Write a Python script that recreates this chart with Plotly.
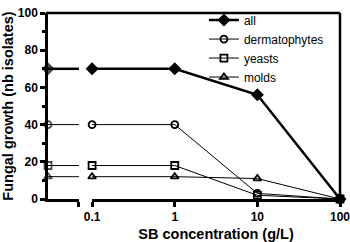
import plotly.graph_objects as go

# ---- data ----
series_names = ["all", "dermatophytes", "yeasts", "molds"]
concentrations = [0.1, 1, 10, 100]          # SB concentration (g/L)
control_values = [70, 40, 18, 12]           # no SB (control)
all_values = [70, 70, 56, 0]
dermatophytes_values = [40, 40, 3, 0]
yeasts_values = [18, 18, 2, 0]
molds_values = [12, 12, 11, 0]
x_tick_labels = ["0.1", "1", "10", "100"]
y_tick_values = [0, 20, 40, 60, 80, 100]

series_values = [all_values, dermatophytes_values, yeasts_values, molds_values]
symbols = ["diamond", "circle-open", "square-open", "triangle-up-open"]
line_widths = [2.5, 1, 1, 1]
marker_sizes = [8, 7, 7, 7]

FONT = "Liberation Sans, Arial, sans-serif"
BLACK = "#000000"

fig = go.Figure()

LEFT_END = 1  # end of control segment (left axis range end)

for name, ctrl, vals, sym, lw, ms in zip(series_names, control_values, series_values,
                                          symbols, line_widths, marker_sizes):
    # control segment (left broken part of the axis)
    fig.add_trace(go.Scatter(
        x=[0, LEFT_END], y=[ctrl, ctrl], xaxis="x", yaxis="y",
        mode="lines+markers", showlegend=False, cliponaxis=False,
        line=dict(color=BLACK, width=lw),
        marker=dict(symbol=sym, size=[ms, 0], color=BLACK,
                    line=dict(color=BLACK, width=1.8)),
        hoverinfo="skip",
    ))
    # concentration series (log part)
    fig.add_trace(go.Scatter(
        x=concentrations, y=vals, xaxis="x2", yaxis="y", name=name,
        mode="lines+markers", cliponaxis=False,
        line=dict(color=BLACK, width=lw),
        marker=dict(symbol=sym, size=ms, color=BLACK,
                    line=dict(color=BLACK, width=1.8)),
    ))

axis_common = dict(showgrid=False, zeroline=False, showline=True,
                   linecolor=BLACK, linewidth=2.5, ticks="outside",
                   tickcolor=BLACK, tickwidth=2.5, ticklabeloverflow="allow",
                   automargin=False)

fig.update_layout(
    width=350, height=242,
    margin=dict(l=48, r=10, t=6, b=43),
    paper_bgcolor="white", plot_bgcolor="white",
    font=dict(family=FONT, color=BLACK),
    xaxis=dict(domain=[0, 0.106], range=[0, LEFT_END], anchor="y",
               tickvals=[LEFT_END], ticklen=5, showticklabels=False,
               **axis_common),
    xaxis2=dict(domain=[0.151, 1], type="log", range=[-1, 2], anchor="y",
                tickvals=concentrations, ticktext=x_tick_labels, ticklen=5,
                tickfont=dict(size=12, weight="bold"),
                title=dict(text="SB concentration (g/L)", standoff=11,
                           font=dict(size=14.5, weight="bold")),
                **axis_common),
    xaxis3=dict(overlaying="x", range=[0, LEFT_END], anchor="y",
                showgrid=False, zeroline=False, showline=False,
                ticks="inside", tickvals=[LEFT_END], ticklen=5,
                tickcolor=BLACK, tickwidth=2.5, showticklabels=False),
    xaxis4=dict(overlaying="x2", type="log", range=[-1, 2], anchor="y",
                showgrid=False, zeroline=False, showline=False,
                ticks="inside", tickvals=[concentrations[0]], ticklen=5,
                tickcolor=BLACK, tickwidth=2.5, showticklabels=False),
    yaxis=dict(domain=[0, 1], range=[0, 100], anchor="x",
               tickvals=y_tick_values, ticklen=5,
               minor=dict(dtick=10, ticks="outside", ticklen=3,
                          tickcolor=BLACK, tickwidth=2.5),
               tickfont=dict(size=12, weight="bold"),
               title=dict(text="Fungal growth (nb isolates)", standoff=3,
                          font=dict(size=14.5, weight="bold")),
               **axis_common),
    legend=dict(x=0.534, y=1.04, xanchor="left", yanchor="top",
                bgcolor="rgba(0,0,0,0)", font=dict(size=12),
                tracegroupgap=0, itemwidth=30),
    shapes=[
        dict(type="line", xref="paper", yref="paper", x0=-0.007, x1=1, y0=1, y1=1,
             line=dict(color=BLACK, width=2.5)),
        dict(type="line", xref="paper", yref="paper", x0=1, x1=1, y0=0, y1=1,
             line=dict(color=BLACK, width=2.5)),
    ],
)

# dummy traces so the overlay axes are drawn
fig.add_trace(go.Scatter(x=[None], y=[None], xaxis="x3", yaxis="y", showlegend=False))
fig.add_trace(go.Scatter(x=[None], y=[None], xaxis="x4", yaxis="y", showlegend=False))

fig.write_html("out.html", config={"displayModeBar": False},
               post_script="document.body.style.margin='0';document.body.style.overflow='hidden';")
